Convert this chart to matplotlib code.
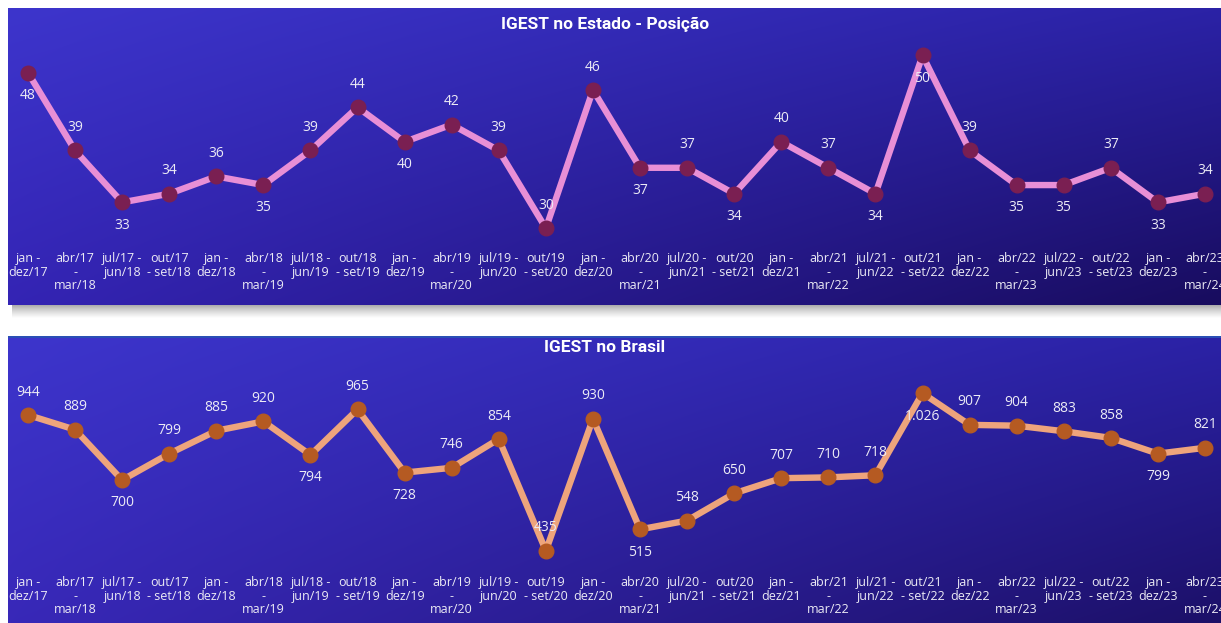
import numpy as np
import matplotlib
matplotlib.use("Agg")
import matplotlib.pyplot as plt
from matplotlib.colors import to_rgb

# ---------------- data ----------------
periods = [
    "jan -\ndez/17", "abr/17\n-\nmar/18", "jul/17 -\njun/18", "out/17\n- set/18",
    "jan -\ndez/18", "abr/18\n-\nmar/19", "jul/18 -\njun/19", "out/18\n- set/19",
    "jan -\ndez/19", "abr/19\n-\nmar/20", "jul/19 -\njun/20", "out/19\n- set/20",
    "jan -\ndez/20", "abr/20\n-\nmar/21", "jul/20 -\njun/21", "out/20\n- set/21",
    "jan -\ndez/21", "abr/21\n-\nmar/22", "jul/21 -\njun/22", "out/21\n- set/22",
    "jan -\ndez/22", "abr/22\n-\nmar/23", "jul/22 -\njun/23", "out/22\n- set/23",
    "jan -\ndez/23", "abr/23\n-\nmar/24",
]
estado_posicao = [48, 39, 33, 34, 36, 35, 39, 44, 40, 42, 39, 30, 46,
                  37, 37, 34, 40, 37, 34, 50, 39, 35, 35, 37, 33, 34]
brasil_posicao = [944, 889, 700, 799, 885, 920, 794, 965, 728, 746, 854, 435, 930,
                  515, 548, 650, 707, 710, 718, 1026, 907, 904, 883, 858, 799, 821]
title_estado = "IGEST no Estado - Posição"
title_brasil = "IGEST no Brasil"

# label placement (style): +1 above, -1 below
place_estado = [-1, 1, -1, 1, 1, -1, 1, 1, -1, 1, 1, 1, 1,
                -1, 1, -1, 1, 1, -1, -1, 1, -1, -1, 1, -1, 1]
place_brasil = [1, 1, -1, 1, 1, 1, -1, 1, -1, 1, 1, 1, 1,
                -1, 1, 1, 1, 1, 1, -1, 1, 1, 1, 1, -1, 1]

# ---------------- layout ----------------
W, H = 1221, 623
DPI = 100
fig = plt.figure(figsize=(W / DPI, H / DPI), dpi=DPI)
fig.patch.set_facecolor("white")

def px_axes(x0, y0, x1, y1, **kw):
    return fig.add_axes([x0 / W, 1 - y1 / H, (x1 - x0) / W, (y1 - y0) / H], **kw)

def gradient_panel(x0, y0, x1, y1, tl, tr, bl, br, z=0):
    ax = px_axes(x0, y0, x1, y1)
    ax.set_zorder(z)
    h, w = 120, 240
    tl, tr, bl, br = (np.array(to_rgb(c)) for c in (tl, tr, bl, br))
    u = np.linspace(0, 1, w)[None, :, None]
    v = np.linspace(0, 1, h)[:, None, None]
    img = (1 - u) * (1 - v) * tl + u * (1 - v) * tr + (1 - u) * v * bl + u * v * br
    ax.imshow(img, aspect="auto", extent=(0, 1, 0, 1), interpolation="bilinear")
    ax.axis("off")
    return ax

def shadow(x0, y0, x1, y1, z=0):
    ax = px_axes(x0, y0, x1, y1)
    ax.set_zorder(z)
    v = np.linspace(0, 1, 50)[:, None]
    g = 0.66 + 0.34 * v ** 0.8
    img = np.repeat(g, 10, axis=1)
    img = np.dstack([img, img, img])
    ax.imshow(img, aspect="auto", extent=(0, 1, 0, 1), interpolation="bilinear")
    ax.axis("off")

FONT = "Open Sans"
TXT = "#ecebf5"

def line_panel(ax, values, place, line_c, mark_c, ylim):
    x = np.arange(len(values))
    ax.set_facecolor("none")
    ax.plot(x, values, color=line_c, lw=4.6, solid_joinstyle="round",
            solid_capstyle="round", zorder=2)
    ax.plot(x, values, "o", color=mark_c, ms=10.5, zorder=3)
    for xi, v, p in zip(x, values, place):
        ax.annotate(f"{v:,}".replace(",", "."), (xi, v),
                    xytext=(0, 16.5 * p), textcoords="offset points",
                    ha="center", va="center", color=TXT, fontsize=10,
                    family=FONT, zorder=4)
    ax.set_xlim(-0.425, 25.34)
    ax.set_ylim(*ylim)
    ax.set_yticks([])
    ax.set_xticks(x)
    ax.set_xticklabels(periods, fontsize=9, family=FONT, color=TXT,
                       linespacing=1.05)
    ax.tick_params(axis="x", length=0, pad=3)
    for s in ax.spines.values():
        s.set_visible(False)

# top panel
shadow(12, 305, 1221, 318, z=0)
gradient_panel(8, 8, 1221, 305, "#3d35cc", "#2b22a6", "#3424b4", "#180c5e", z=1)
ax1 = px_axes(8, 30, 1221, 248)
ax1.set_zorder(2)
line_panel(ax1, estado_posicao, place_estado, "#e88fd6", "#7a1f52", (27.72, 52.94))
fig.text(605 / W, 1 - 24 / H, title_estado, ha="center", va="center",
         color="white", fontsize=12.5, family="Roboto", weight="bold", zorder=5)

# bottom panel
gradient_panel(8, 336, 1221, 623, "#3d35cc", "#2b22a6", "#3828b8", "#1c1068", z=1)
strip = px_axes(8, 336, 1221, 338)
strip.set_zorder(1.5)
strip.set_facecolor("#2a4fb5")
strip.set_xticks([]); strip.set_yticks([])
for s in strip.spines.values():
    s.set_visible(False)
ax2 = px_axes(8, 360, 1221, 572)
ax2.set_zorder(2)
line_panel(ax2, brasil_posicao, place_brasil, "#eea47c", "#b55a22", (355.1, 1150.3))
fig.text(605 / W, 1 - 348 / H, title_brasil, ha="center", va="center",
         color="white", fontsize=12.5, family="Roboto", weight="bold", zorder=5)

fig.savefig("out.png", dpi=DPI, facecolor="white")
